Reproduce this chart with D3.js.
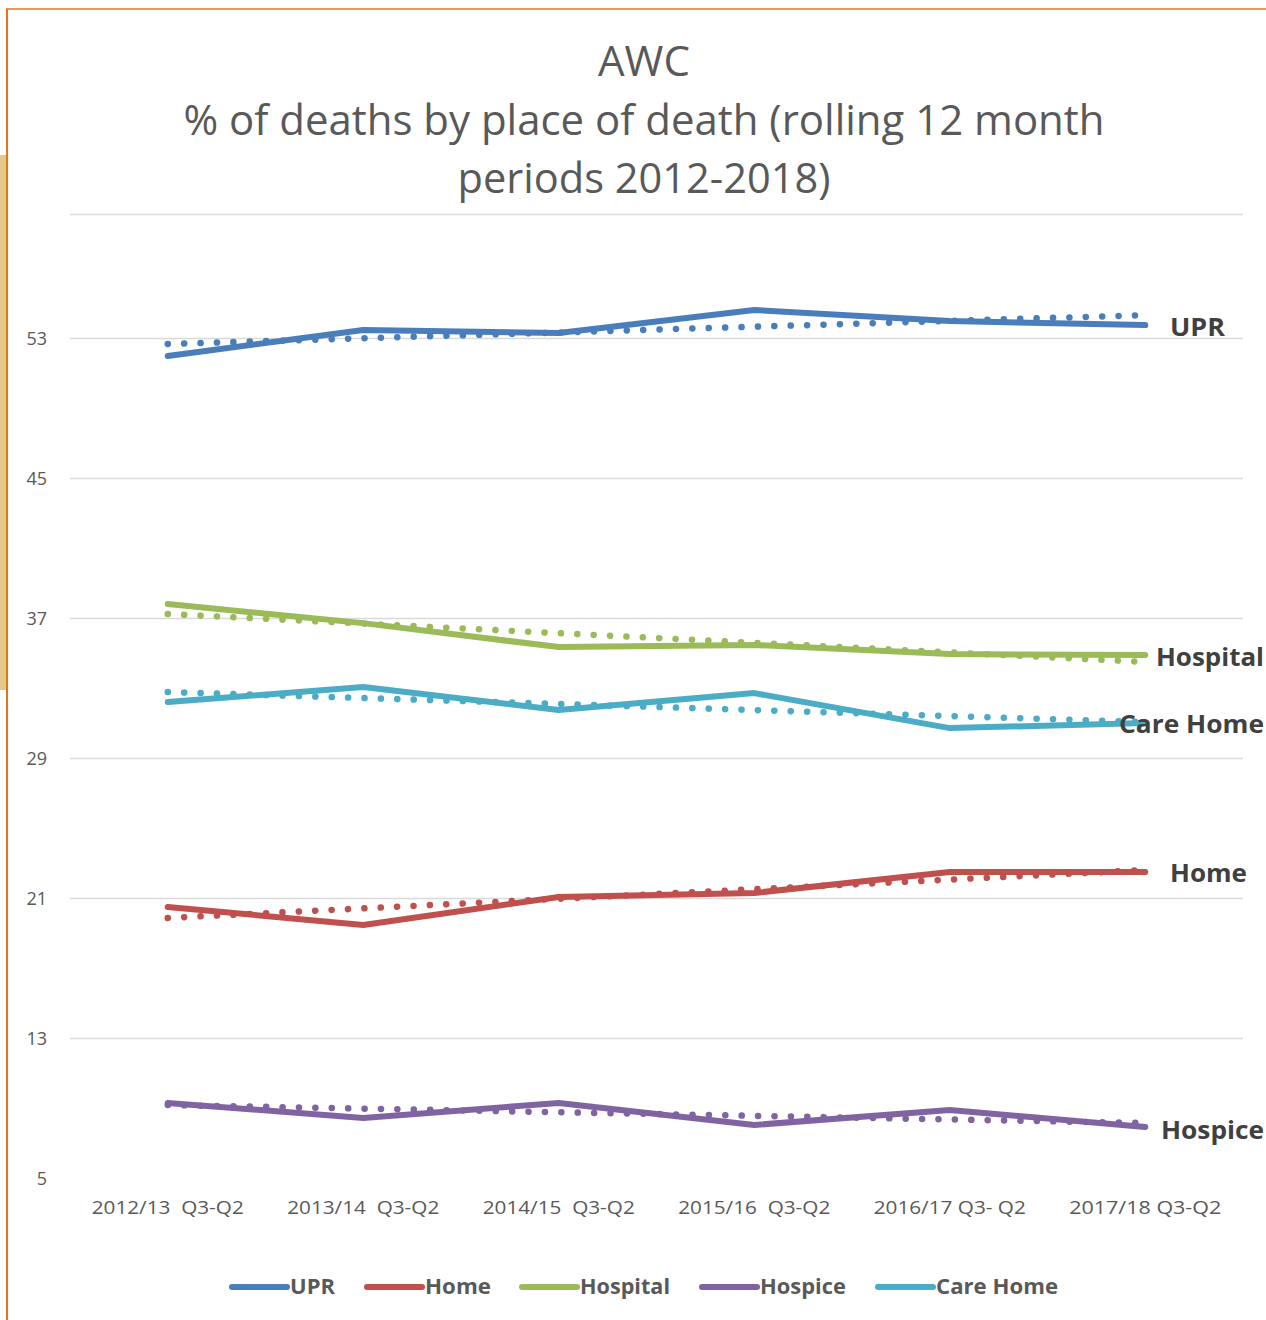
<!DOCTYPE html>
<html>
<head>
<meta charset="utf-8">
<script src="https://cdn.jsdelivr.net/npm/d3@7/dist/d3.min.js"></script>
<style>
  html, body { margin: 0; padding: 0; background: #fff; }
  svg { display: block; }
  text { font-family: "Open Sans", "Noto Sans", sans-serif; white-space: pre; }
</style>
</head>
<body>
<svg id="chart" width="1266" height="1320"></svg>
<script>
// ---- data ----
const categories = ["2012/13  Q3-Q2", "2013/14  Q3-Q2", "2014/15  Q3-Q2", "2015/16  Q3-Q2", "2016/17 Q3- Q2", "2017/18 Q3-Q2"];
const seriesNames = ["UPR", "Home", "Hospital", "Hospice", "Care Home"];
const upr      = [51.97, 53.46, 53.29, 54.60, 53.97, 53.74];
const home     = [20.49, 19.46, 21.06, 21.29, 22.49, 22.49];
const hospital = [37.80, 36.71, 35.34, 35.46, 34.94, 34.89];
const hospice  = [9.29, 8.43, 9.29, 8.03, 8.89, 7.91];
const careHome = [32.20, 33.06, 31.74, 32.71, 30.71, 31.00];
// linear trend line values at first and last category
const trendStart = [52.66, 19.86, 37.23, 9.17, 32.77];
const trendEnd   = [54.31, 22.60, 34.49, 8.14, 31.06];
const yTicks = [5, 13, 21, 29, 37, 45, 53];
const yMax = 60.09;
const colors = ["#4A7EBB", "#C0504D", "#9BBB59", "#8064A2", "#4BACC6"];
const title = ["AWC", "% of deaths by place of death (rolling 12 month", "periods 2012-2018)"];

const seriesValues = [upr, home, hospital, hospice, careHome];

const svg = d3.select("#chart");

// frame decorations
svg.append("rect").attr("x", 0).attr("y", 155).attr("width", 7).attr("height", 535).attr("fill", "#E2CB89");
svg.append("line").attr("x1", 7).attr("x2", 7).attr("y1", 9).attr("y2", 1320).attr("stroke", "#E8731A").attr("stroke-width", 2);
svg.append("line").attr("x1", 6).attr("x2", 1266).attr("y1", 9).attr("y2", 9).attr("stroke", "#E8731A").attr("stroke-width", 1.5);

// title
const titleY = [76, 135, 193];
const titleLen = [92, 921, 373];
title.forEach((t, i) => {
  svg.append("text")
    .attr("x", 644).attr("y", titleY[i])
    .attr("text-anchor", "middle")
    .attr("font-size", 42)
    .attr("fill", "#595959")
    .attr("textLength", titleLen[i])
    .attr("lengthAdjust", "spacingAndGlyphs")
    .text(t);
});

// scales
const x = d3.scaleBand().domain(categories).range([70, 1243]);
const y = d3.scaleLinear().domain([5, yMax]).range([1178, 214]);
const cx = d => x(d) + x.bandwidth() / 2;

// gridlines
const gridVals = yTicks.filter(v => v !== 5).concat([yMax]);
svg.append("g").selectAll("line").data(gridVals).join("line")
  .attr("x1", 70).attr("x2", 1243)
  .attr("y1", d => Math.round(y(d)) + 0.5).attr("y2", d => Math.round(y(d)) + 0.5)
  .attr("stroke", "#D9D9D9").attr("stroke-width", 1.5);

// y axis labels
const yAxis = d3.axisLeft(y).tickValues(yTicks).tickSize(0).tickPadding(0).tickFormat(d3.format("d"));
const yg = svg.append("g").attr("transform", "translate(47,0)").call(yAxis);
yg.select(".domain").remove();
yg.selectAll("text").attr("font-size", 18).attr("fill", "#595959").attr("font-family", "Open Sans").attr("dy", "0.35em");

// x axis labels
const xAxis = d3.axisBottom(x).tickSize(0).tickPadding(0);
const xg = svg.append("g").attr("transform", "translate(0,1208)").call(xAxis);
xg.select(".domain").remove();
xg.selectAll("text").attr("font-size", 18).attr("fill", "#595959").attr("font-family", "Open Sans")
  .attr("dy", "0.35em").attr("textLength", 152).attr("lengthAdjust", "spacingAndGlyphs");

// trend lines (dotted)
const lineGen = d3.line().x((d, i) => cx(categories[i])).y(d => y(d));
seriesValues.forEach((vals, si) => {
  svg.append("line")
    .attr("x1", cx(categories[0])).attr("y1", y(trendStart[si]))
    .attr("x2", cx(categories[categories.length - 1])).attr("y2", y(trendEnd[si]))
    .attr("stroke", colors[si]).attr("stroke-width", 6.5)
    .attr("stroke-linecap", "round").attr("stroke-dasharray", "0.1 16.3");
});

// solid series lines
seriesValues.forEach((vals, si) => {
  svg.append("path").datum(vals)
    .attr("d", lineGen)
    .attr("fill", "none").attr("stroke", colors[si]).attr("stroke-width", 6)
    .attr("stroke-linecap", "round").attr("stroke-linejoin", "round");
});

// right-side series labels
const endLabelX = [1170, 1170, 1156, 1161, 1119];
const endLabelY = [327, 873, 657, 1130, 724];
const endLabelLen = [55, 77, 108, 103, 145];
seriesNames.forEach((n, i) => {
  svg.append("text")
    .attr("x", endLabelX[i]).attr("y", endLabelY[i]).attr("dy", "0.35em")
    .attr("font-size", 25).attr("font-weight", "bold").attr("fill", "#404040")
    .attr("textLength", endLabelLen[i]).attr("lengthAdjust", "spacingAndGlyphs")
    .text(n);
});

// legend
const legendSwatchX = [232, 367, 522, 702, 878];
const legendTextLen = [45, 66, 90, 86, 122];
const lg = svg.append("g");
seriesNames.forEach((n, i) => {
  const sx = legendSwatchX[i];
  lg.append("line").attr("x1", sx).attr("x2", sx + 55).attr("y1", 1287).attr("y2", 1287)
    .attr("stroke", colors[i]).attr("stroke-width", 6).attr("stroke-linecap", "round");
  lg.append("text").attr("x", sx + 58).attr("y", 1287).attr("dy", "0.35em")
    .attr("font-size", 21).attr("font-weight", "bold").attr("fill", "#595959")
    .attr("textLength", legendTextLen[i]).attr("lengthAdjust", "spacingAndGlyphs")
    .text(n);
});
</script>
</body>
</html>
